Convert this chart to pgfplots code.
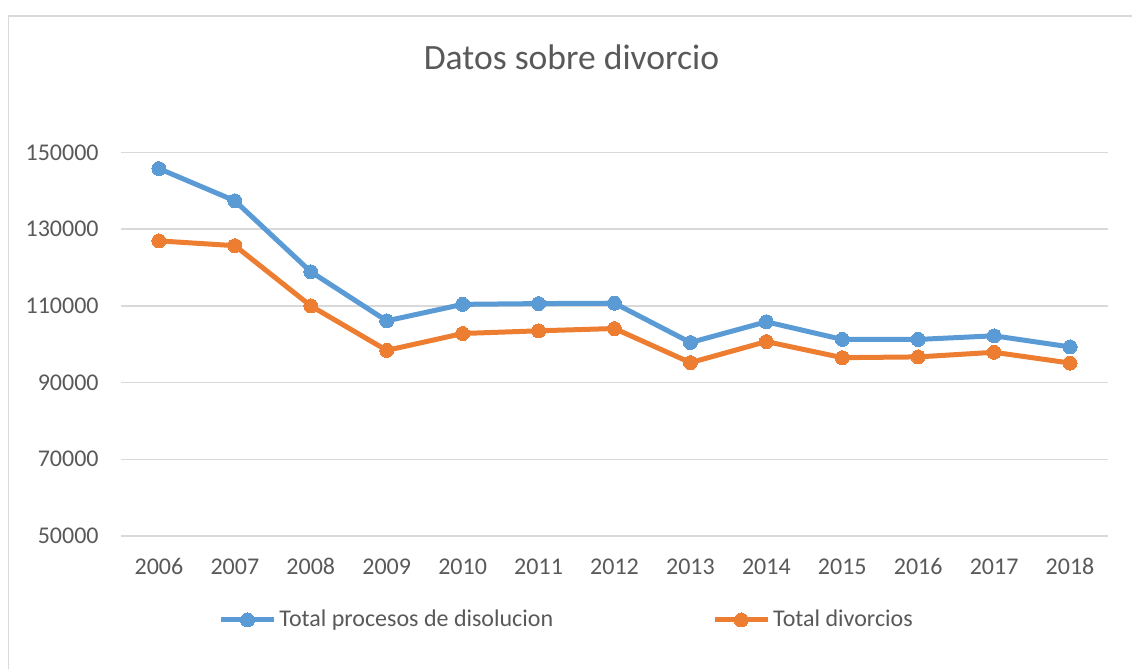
\documentclass[border=0pt]{standalone}
\usepackage{fontspec}
\setmainfont{Carlito}
\usepackage{pgfplots}
\pgfplotsset{compat=1.18}
\definecolor{cblue}{HTML}{5B9BD5}
\definecolor{corange}{HTML}{ED7D31}
\definecolor{cgrid}{HTML}{D9D9D9}
\definecolor{ctext}{HTML}{595959}
\begin{document}
\begin{tikzpicture}
\useasboundingbox (0,0) rectangle (566pt,334.5pt);
\draw[cgrid, line width=0.75pt] (4.25pt,-10pt) rectangle (580pt,326.5pt);
\node[anchor=base, text=ctext, font=\fontsize{17.8}{21}\selectfont] at (285.75pt,299.85pt) {Datos sobre divorcio};
\begin{axis}[
  at={(60.5pt,66.5pt)}, anchor=south west,
  scale only axis, width=493.5pt, height=191.75pt,
  xmin=-0.5, xmax=12.5, ymin=50000, ymax=150000,
  xtick={0,...,12},
  xticklabels={2006,2007,2008,2009,2010,2011,2012,2013,2014,2015,2016,2017,2018},
  ytick={50000,70000,90000,110000,130000,150000},
  yticklabels={50000,70000,90000,110000,130000,150000},
  scaled y ticks=false,
  axis line style={draw=none}, tick style={draw=none},
  ymajorgrids, major grid style={cgrid, line width=0.75pt},
  xticklabel style={inner sep=0pt, anchor=base, yshift=-19.25pt, text=ctext, font=\fontsize{12}{14}\selectfont},
  yticklabel style={inner sep=0pt, anchor=east, xshift=-11pt, text=ctext, font=\fontsize{12}{14}\selectfont},
  clip=false,
  legend columns=2,
  legend style={at={(0.452,-0.219)}, anchor=center, draw=none, fill=none,
    font=\fontsize{12}{14}\selectfont, text=ctext,
    /tikz/every even column/.append style={column sep=78pt},
    inner sep=0pt, nodes={inner sep=1.5pt}},
  legend image code/.code={\draw[#1, mark repeat=2, mark phase=2] plot coordinates {(0pt,0pt) (13.25pt,0pt) (26.5pt,0pt)};},
]
\addplot[cblue, line width=2.5pt, mark=*, mark size=3.5pt, mark options={line width=0pt}] coordinates {
(0,145800) (1,137400) (2,118900) (3,106100) (4,110400) (5,110600) (6,110700)
(7,100450) (8,105850) (9,101250) (10,101250) (11,102200) (12,99300)};
\addlegendentry{Total procesos de disolucion}
\addplot[corange, line width=2.5pt, mark=*, mark size=3.5pt, mark options={line width=0pt}] coordinates {
(0,126950) (1,125700) (2,110000) (3,98400) (4,102800) (5,103500) (6,104100)
(7,95200) (8,100700) (9,96500) (10,96700) (11,97900) (12,95100)};
\addlegendentry{Total divorcios}
\end{axis}
\end{tikzpicture}
\end{document}
